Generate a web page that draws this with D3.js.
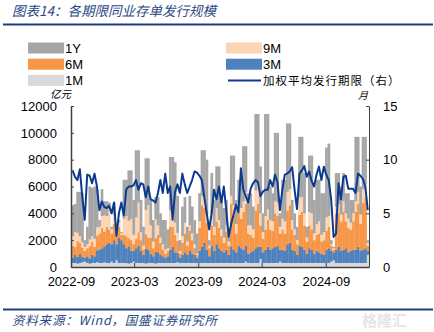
<!DOCTYPE html>
<html lang="zh">
<head>
  <meta charset="UTF-8">
  <title>各期限同业存单发行规模</title>
  <script src="https://d3js.org/d3.v7.min.js"></script>
  <style>
    body { margin: 0; background: white; }
    svg { display: block; font-family: "Liberation Sans", Arial, sans-serif; }
    .cjk { font-family: "Noto Sans CJK SC", sans-serif; }
    .axis path, .axis line { stroke: #404040; }
    .axis text { font-size: 13px; fill: #000; font-family: "Liberation Sans", Arial, sans-serif; }
  </style>
</head>
<body>
<svg id="svg"></svg>
<script>
// series order, bottom to top
const seriesKeys = ["1M", "3M", "6M", "9M", "1Y"];
const seriesColors = { "1M": "#d9d9d9", "3M": "#4f81bd", "6M": "#f79646", "9M": "#fcd5b5", "1Y": "#a6a6a6" };

// weekly issuance, 亿元
const m1 = [300,300,250,300,350,400,300,250,300,300, 350,300,300,350,300,300,400,300,500,300,
  300,300,300,250,300,400,300,300,300,300, 250,300,300,300,250,300,300,300,300,300,
  300,300,300,350,300,300,300,300,300,300, 300,300,300,300,300,300,300,300,300,300,
  300,300,300,300,300,300,300,300,300,300, 300,400,300,300,300,300,300,600,300,300,
  300,300,300,300,300,400,300,300,300,300, 300,300,300,300,300,300,300,300,300,300,
  300,300,300,300,300,300,400,500,300,300, 300,300,300,300,300,300,300,300,300,300,
  300,900];
const m3 = [400,600,500,700,400,300,500,400,600,500, 900,1000,1100,1200,1400,1500,1300,1700,1200,1900,
  1700,1400,1100,1300,900,800,1100,1300,900,600, 1100,1000,700,500,900,800,600,500,400,500,
  1000,1200,800,700,400,600,800,600,900,700, 600,400,900,1200,1500,1000,500,1300,900,1400,
  1100,900,800,1000,600,1200,1000,800,1300,1100, 1000,1200,700,800,900,1100,1200,900,800,1000,
  1200,1000,1100,1200,1300,900,1000,900,1400,1500, 1000,900,600,1300,1200,1000,700,1100,1000,700,
  900,800,700,600,1000,1100,800,600,1000,1200, 900,1000,1100,800,900,1000,1000,1200,900,1000,
  1100,300];
const m6 = [900,600,1200,800,700,500,600,900,1000,700, 1100,1200,1500,1100,1300,1000,800,1200,600,800,
  400,700,900,600,800,500,700,1000,800,400, 1100,900,1200,600,1000,1300,900,500,300,400,
  1700,1500,1300,900,300,900,1400,700,1500,1000, 500,200,1700,3100,2600,2000,600,1500,1200,1700,
  1500,1100,700,1300,700,3200,2500,1400,2500,2200, 2800,3100,1500,1300,1000,2800,3200,1600,1000,1500,
  2000,1500,1300,2500,2200,1200,1500,1300,2500,2800, 1500,1200,800,2300,2600,1800,900,1700,1500,1000,
  1200,1400,900,1100,1400,1600,400,200,2700,2500, 2200,2800,2000,1800,1600,2100,2800,3200,2000,3500,
  3800,400];
const m9 = [700,1100,600,500,400,300,300,500,400,600, 600,500,900,1200,800,1500,300,700,100,300,
  100,1200,1500,1300,1600,700,1600,2200,600,300, 1800,2400,900,500,1400,700,400,400,300,200,
  1200,1000,900,600,200,500,800,300,400,500, 300,100,500,700,800,600,200,900,600,1000,
  600,500,400,500,300,600,800,700,600,800, 800,900,600,700,600,1500,1500,900,500,1000,
  800,700,700,900,1000,500,800,900,1400,1200, 700,400,300,1300,1100,900,300,1000,1200,500,
  800,900,500,600,1000,800,100,100,500,700, 500,800,600,700,500,600,800,900,700,1000,
  1000,200];
const y1 = [2300,2100,3050,3300,3650,500,1300,3950,3600,3900, 2850,500,2000,1050,1100,500,200,900,100,200,
  100,2900,2700,3750,3600,2600,5000,3900,2400,1400, 3850,3500,1900,1600,1650,2100,1800,1800,2200,1400,
  4000,4200,4500,2750,800,2200,1900,1100,2200,2000, 1800,1500,2100,3400,3500,4100,400,3000,2000,3100,
  4000,2500,2200,1900,300,3000,3700,1800,1800,2100, 4100,3400,2400,2400,1700,5700,5200,3500,1400,7600,
  7100,2500,2100,5100,5200,1000,2900,3100,5100,4900, 1500,1200,1000,4500,4500,3000,800,4200,4300,2500,
  3300,3100,3100,2900,5200,5400,300,100,2500,2300, 2100,2100,1500,1900,1700,1000,4800,4100,2100,3900,
  3500,200];
// weighted average tenor, months (right axis)
const tenor = [9.0,8.4,8.1,9.1,6.5,4.4,8.6,8.5,7.8,8.7, 7.5,5.3,6.1,5.6,5.5,5.7,5.0,6.0,2.9,5.0,
  6.0,4.8,7.2,7.5,7.5,7.6,8.1,7.2,7.8,7.7, 6.5,7.5,6.3,6.2,6.0,6.9,8.1,6.9,8.7,6.9,
  7.5,4.4,7.0,7.7,6.9,8.7,7.7,6.9,7.5,8.1, 8.9,8.8,8.5,8.1,6.5,5.0,3.5,5.0,7.2,6.3,
  7.5,6.0,7.5,5.3,2.8,4.0,4.9,5.8,5.1,9.2, 7.2,6.6,6.0,7.3,7.8,8.1,7.9,6.6,7.0,7.2,
  7.2,8.1,7.5,8.6,7.9,5.3,7.2,8.6,8.7,8.9, 9.3,7.2,5.4,8.7,9.0,9.4,8.4,8.9,8.0,7.5,
  8.6,9.35,8.1,9.35,8.6,8.1,6.3,2.8,3.1,7.8, 6.3,8.4,8.5,7.3,7.3,7.3,6.9,8.7,8.5,8.2,
  7.5,5.3];
const weeks = m1.map((d, i) => d3.timeDay.offset(new Date(2022, 8, 2), 7 * i));
const xTicks = [new Date(2022, 8, 1), new Date(2023, 2, 1), new Date(2023, 8, 1), new Date(2024, 2, 1), new Date(2024, 8, 1)];
const leftTicks = [0, 2000, 4000, 6000, 8000, 10000, 12000];
const rightTicks = [0, 5, 10, 15];

const W = 434, H = 332;
const svg = d3.select("#svg").attr("width", W).attr("height", H);

const x = d3.scaleTime().domain([new Date(2022, 8, 1), new Date(2025, 0, 3)]).range([71, 369]);
const y = d3.scaleLinear().domain([0, 12000]).range([267, 106]);
const y2 = d3.scaleLinear().domain([0, 15]).range([267, 106]);

const rows = weeks.map((d, i) => ({ date: d, "1M": m1[i], "3M": m3[i], "6M": m6[i], "9M": m9[i], "1Y": y1[i] }));
const stacked = d3.stack().keys(seriesKeys)(rows);

// title
svg.append("text").attr("class", "cjk").attr("x", 12).attr("y", 16)
  .attr("font-size", 13.5).attr("font-style", "italic").attr("fill", "#2c4a86")
  .text("图表14：各期限同业存单发行规模");
svg.append("line").attr("x1", 3).attr("x2", 433).attr("y1", 24.5).attr("y2", 24.5)
  .attr("stroke", "#1f3f7a").attr("stroke-width", 2);

// bars
const barG = svg.append("g");
stacked.forEach(layer => {
  barG.append("g").attr("fill", seriesColors[layer.key])
    .selectAll("rect").data(layer).join("rect")
    .attr("x", d => x(d.data.date))
    .attr("width", d => x(d3.timeDay.offset(d.data.date, 7)) - x(d.data.date) + 0.3)
    .attr("y", d => y(d[1]))
    .attr("height", d => y(d[0]) - y(d[1]));
});

// tenor line
svg.append("path").datum(tenor)
  .attr("fill", "none").attr("stroke", "#0b3a8f").attr("stroke-width", 2)
  .attr("stroke-linejoin", "round")
  .attr("d", d3.line().x((d, i) => x(weeks[i]) + 1.2).y(d => y2(d)));

// axes
const xAxis = svg.append("g").attr("class", "axis").attr("transform", "translate(0,267)")
  .call(d3.axisBottom(x).tickValues(xTicks).tickFormat(d3.timeFormat("%Y-%m")).tickSizeInner(-4).tickSizeOuter(0).tickPadding(10));
xAxis.select(".domain").attr("stroke-width", 1.5);

const yAxis = svg.append("g").attr("class", "axis").attr("transform", "translate(71,0)")
  .call(d3.axisLeft(y).tickValues(leftTicks).tickSizeInner(-3).tickSizeOuter(0).tickPadding(14).tickFormat(d3.format("d")));
yAxis.select(".domain").attr("stroke-width", 1.5);

const y2Axis = svg.append("g").attr("class", "axis").attr("transform", "translate(369,0)")
  .call(d3.axisRight(y2).tickValues(rightTicks).tickSizeInner(-3).tickSizeOuter(0).tickPadding(14));
y2Axis.select(".domain").attr("stroke", "#bfbfbf");

// units
svg.append("text").attr("class", "cjk").attr("x", 50).attr("y", 97.5).attr("font-size", 10.5)
  .attr("font-style", "italic").text("亿元");
svg.append("text").attr("class", "cjk").attr("x", 358).attr("y", 99).attr("font-size", 10)
  .attr("font-style", "italic").text("月");

// legend
const legendItems = [
  { key: "1Y", col: 0, row: 0 }, { key: "6M", col: 0, row: 1 }, { key: "1M", col: 0, row: 2 },
  { key: "9M", col: 1, row: 0 }, { key: "3M", col: 1, row: 1 }
];
const legend = svg.append("g");
const colX = [28, 226];
legendItems.forEach(it => {
  const g = legend.append("g").attr("transform", `translate(${colX[it.col]},${42.5 + it.row * 16.2})`);
  g.append("rect").attr("width", 36).attr("height", 11).attr("fill", seriesColors[it.key]);
  g.append("text").attr("x", 37).attr("y", 10.5).attr("font-size", 13).text(it.key);
});
const lg = legend.append("g").attr("transform", `translate(${colX[1]},${42.5 + 2 * 16.2})`);
lg.append("line").attr("x1", 2).attr("x2", 35).attr("y1", 5.5).attr("y2", 5.5)
  .attr("stroke", "#0b3a8f").attr("stroke-width", 2);
lg.append("text").attr("class", "cjk").attr("x", 37).attr("y", 10.3).attr("font-size", 11.5)
  .attr("letter-spacing", 1).text("加权平均发行期限（右）");

// footer
svg.append("line").attr("x1", 3).attr("x2", 433).attr("y1", 309.5).attr("y2", 309.5)
  .attr("stroke", "#1f3f7a").attr("stroke-width", 2);
svg.append("text").attr("class", "cjk").attr("x", 12).attr("y", 325).attr("font-size", 12.5)
  .attr("font-style", "italic").attr("fill", "#2c4a86").attr("letter-spacing", 0.8)
  .text("资料来源：Wind，国盛证券研究所");
svg.append("text").attr("class", "cjk").attr("x", 362).attr("y", 326).attr("font-size", 15)
  .attr("fill", "#e6e6e6").attr("font-weight", "bold").text("格隆汇");
</script>
</body>
</html>
